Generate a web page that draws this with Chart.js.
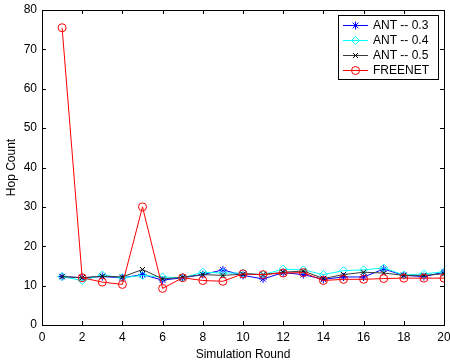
<!DOCTYPE html>
<html>
<head>
<meta charset="utf-8">
<script src="https://cdn.jsdelivr.net/npm/chart.js@4/dist/chart.umd.min.js"></script>
<style>
  body { margin: 0; background: #fff; }
</style>
</head>
<body>
<canvas id="hopChart" width="450" height="362"></canvas>
<script>
// simulation rounds 1..20
const rounds = [1, 2, 3, 4, 5, 6, 7, 8, 9, 10, 11, 12, 13, 14, 15, 16, 17, 18, 19, 20];

const ant03 = [12.3, 12.0, 12.3, 12.0, 12.8, 11.4, 12.0, 12.8, 14.0, 12.6, 11.7, 13.3, 12.8, 11.6, 12.2, 12.2, 14.2, 12.6, 12.3, 13.4];
const ant04 = [12.3, 11.3, 12.7, 12.0, 12.6, 12.2, 12.0, 13.4, 13.2, 13.2, 12.8, 14.2, 14.0, 12.8, 13.8, 14.0, 14.5, 12.7, 13.0, 13.5];
const ant05 = [12.3, 12.0, 12.4, 12.2, 14.1, 11.7, 12.1, 12.8, 12.6, 12.9, 12.8, 13.4, 13.7, 11.8, 12.8, 13.4, 13.2, 12.6, 12.6, 13.0];
const freenet = [75.5, 12.0, 10.9, 10.3, 30.0, 9.3, 12.0, 11.3, 11.1, 13.0, 12.8, 13.2, 13.3, 11.3, 11.6, 11.6, 11.8, 11.9, 11.9, 11.9];

const xTicks = [0, 2, 4, 6, 8, 10, 12, 14, 16, 18, 20];
const yTicks = [0, 10, 20, 30, 40, 50, 60, 70, 80];

const FONT = '"Liberation Sans", Arial, sans-serif';

function toPoints(vals) {
    return vals.map((v, i) => ({ x: rounds[i], y: v }));
}

// MATLAB style box with inward ticks on all four sides + legend in the corner
const boxTicks = {
    id: 'boxTicks',
    afterDraw(chart) {
        const ctx = chart.ctx;
        const a = chart.chartArea;
        const xs = chart.scales.x;
        const ys = chart.scales.y;
        const len = 4;
        ctx.save();
        ctx.strokeStyle = '#000';
        ctx.lineWidth = 1;
        ctx.strokeRect(Math.round(a.left) + 0.5, Math.round(a.top) + 0.5,
            Math.round(a.right - a.left), Math.round(a.bottom - a.top));
        ctx.beginPath();
        xTicks.forEach(v => {
            const px = Math.round(xs.getPixelForValue(v)) + 0.5;
            ctx.moveTo(px, a.bottom);
            ctx.lineTo(px, a.bottom - len);
            ctx.moveTo(px, a.top);
            ctx.lineTo(px, a.top + len);
        });
        yTicks.forEach(v => {
            const py = Math.round(ys.getPixelForValue(v)) + 0.5;
            ctx.moveTo(a.left, py);
            ctx.lineTo(a.left + len, py);
            ctx.moveTo(a.right, py);
            ctx.lineTo(a.right - len, py);
        });
        ctx.stroke();

        // legend
        const lx = 338, ly = 15, lw = 100, lh = 64;
        ctx.fillStyle = '#fff';
        ctx.fillRect(lx, ly, lw, lh);
        ctx.strokeRect(lx + 0.5, ly + 0.5, lw, lh);
        ctx.font = '12px ' + FONT;
        ctx.textBaseline = 'middle';
        chart.data.datasets.forEach((ds, i) => {
            const y = Math.round(ly + 10 + i * 15) + 0.5;
            ctx.strokeStyle = ds.borderColor;
            ctx.lineWidth = 1;
            ctx.beginPath();
            ctx.moveTo(lx + 5, y);
            ctx.lineTo(lx + 30, y);
            ctx.stroke();
            if (Chart.helpers && Chart.helpers.drawPoint) {
                ctx.strokeStyle = ds.pointBorderColor;
                ctx.fillStyle = 'rgba(0,0,0,0)';
                Chart.helpers.drawPoint(ctx, {
                    pointStyle: ds.pointStyle,
                    radius: ds.pointRadius,
                    borderWidth: 1,
                    rotation: 0
                }, lx + 17.5, y);
            }
            ctx.fillStyle = '#000';
            ctx.fillText(ds.label, lx + 35, y);
        });
        ctx.restore();
    }
};

const ctx = document.getElementById('hopChart').getContext('2d');
const hopChart = new Chart(ctx, {
    type: 'line',
    data: {
        datasets: [
            {
                label: 'ANT -- 0.3',
                data: toPoints(ant03),
                borderColor: '#0000ff',
                pointBorderColor: '#0000ff',
                pointBackgroundColor: 'rgba(0,0,0,0)',
                pointStyle: 'star',
                pointRadius: 4,
                order: 4
            },
            {
                label: 'ANT -- 0.4',
                data: toPoints(ant04),
                borderColor: '#00ffff',
                pointBorderColor: '#00ffff',
                pointBackgroundColor: 'rgba(0,0,0,0)',
                pointStyle: 'rectRot',
                pointRadius: 4,
                order: 3
            },
            {
                label: 'ANT -- 0.5',
                data: toPoints(ant05),
                borderColor: '#3a3a3a',
                pointBorderColor: '#000000',
                pointBackgroundColor: 'rgba(0,0,0,0)',
                pointStyle: 'crossRot',
                pointRadius: 3.5,
                order: 2
            },
            {
                label: 'FREENET',
                data: toPoints(freenet),
                borderColor: '#ff0000',
                pointBorderColor: '#ff0000',
                pointBackgroundColor: 'rgba(0,0,0,0)',
                pointStyle: 'circle',
                pointRadius: 4,
                order: 1
            }
        ].map(ds => Object.assign(ds, { borderWidth: 1, pointBorderWidth: 1, tension: 0, fill: false }))
    },
    options: {
        responsive: false,
        animation: false,
        layout: { padding: { top: 10, right: 6, left: 0, bottom: 0 } },
        plugins: {
            legend: { display: false },
            tooltip: { enabled: false }
        },
        scales: {
            x: {
                type: 'linear',
                min: 0,
                max: 20,
                afterBuildTicks: s => { s.ticks = xTicks.map(v => ({ value: v })); },
                afterFit: s => { s.height = 37; s.paddingLeft = 0; s.paddingRight = 0; },
                grid: { display: false, drawTicks: false },
                border: { display: false },
                ticks: { color: '#000', font: { family: FONT, size: 12 }, padding: 5, maxRotation: 0 },
                title: { display: true, text: 'Simulation Round', color: '#000', font: { family: FONT, size: 12 }, padding: { top: 0, bottom: 0 } }
            },
            y: {
                type: 'linear',
                min: 0,
                max: 80,
                afterBuildTicks: s => { s.ticks = yTicks.map(v => ({ value: v })); },
                afterFit: s => { s.width = 42; s.paddingTop = 0; s.paddingBottom = 0; },
                grid: { display: false, drawTicks: false },
                border: { display: false },
                ticks: { color: '#000', font: { family: FONT, size: 12 }, padding: 5 },
                title: { display: true, text: 'Hop Count', color: '#000', font: { family: FONT, size: 12 }, padding: { top: 4, bottom: 0 } }
            }
        }
    },
    plugins: [boxTicks]
});
</script>
</body>
</html>
